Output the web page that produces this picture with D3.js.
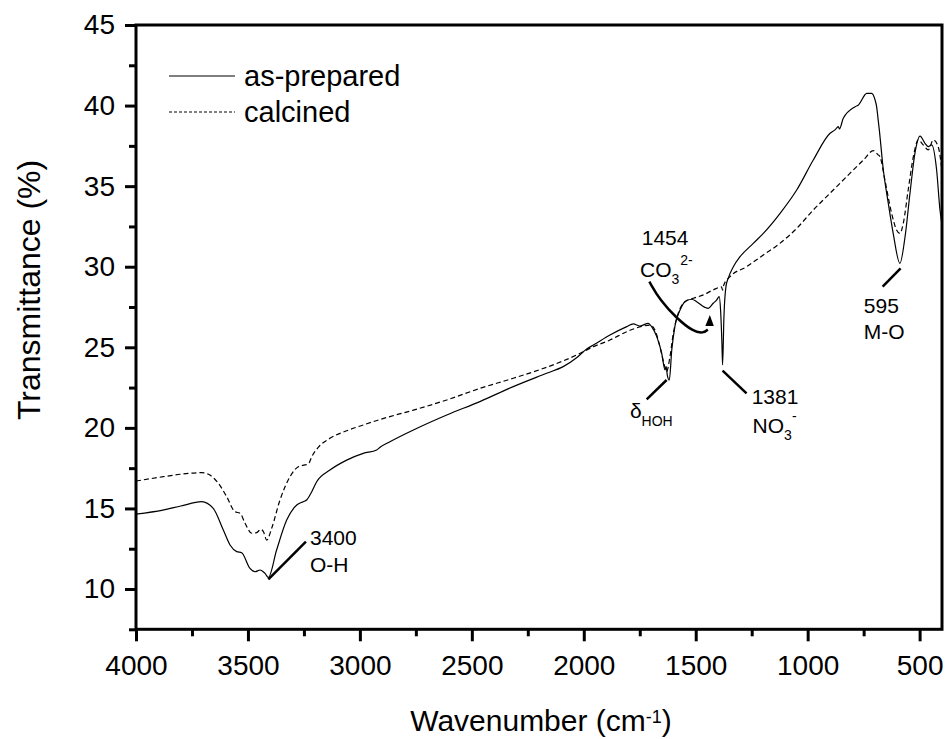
<!DOCTYPE html>
<html>
<head>
<meta charset="utf-8">
<script src="https://cdn.jsdelivr.net/npm/d3@7"></script>
<style>
  html, body { margin: 0; padding: 0; background: #fff; }
  svg { display: block; }
  text { font-family: "Liberation Sans", Arial, Helvetica, sans-serif; fill: #000; }
</style>
</head>
<body>
<svg id="chart" width="945" height="739"></svg>
<script>
// ---------------- data ----------------
const seriesNames = ["as-prepared", "calcined"];

const preparedWn = [4000,3880,3800,3707,3655,3610,3580,3550,3528,3491,3468,3446,3424,3409,3372,3327,3282,3253,3238,3215,3193,3134,3059,2985,2925,2910,2866,2761,2612,2464,2315,2166,2092,2032,1987,1957,1883,1808,1779,1749,1712,1697,1674,1652,1637,1632,1627,1618,1607,1592,1570,1548,1518,1496,1459,1444,1422,1407,1395,1389,1383,1380,1374,1365,1355,1332,1302,1243,1198,1124,1049,975,900,878,863,858,841,788,773,736,714,699,692,685,680,662,640,618,588,565,543,521,498,476,461,446,424,409,402];
const preparedT = [14.65,14.9,15.15,15.42,15.0,13.66,12.73,12.32,12.25,11.28,11.07,11.18,10.97,10.72,12.42,14.28,15.21,15.42,15.52,16.04,16.66,17.38,18.0,18.42,18.63,18.8,19.14,19.87,20.8,21.63,22.56,23.39,23.8,24.35,24.9,25.14,25.76,26.28,26.45,26.32,26.49,26.28,25.66,24.63,23.59,23.8,23.28,22.97,24.83,26.38,27.31,27.83,27.98,27.83,27.48,27.42,27.73,27.93,28.14,27.31,25.25,23.9,26.9,28.76,29.28,30.0,30.62,31.45,32.07,33.3,34.76,36.62,38.28,38.49,38.69,38.55,39.21,39.93,40.04,40.76,40.76,40.35,39.93,39.1,38.49,36.0,33.94,32.07,30.21,31.86,34.56,37.04,38.11,37.66,37.45,37.56,36.0,33.52,32.8];

const calcinedWn = [4000,3878,3803,3707,3670,3632,3595,3558,3535,3513,3483,3461,3442,3431,3416,3394,3357,3312,3275,3245,3230,3215,3186,3134,3059,2985,2910,2866,2761,2612,2464,2315,2166,2100,2032,1957,1883,1808,1734,1704,1682,1660,1642,1630,1615,1600,1578,1548,1511,1466,1422,1385,1380,1375,1347,1273,1198,1124,1049,975,900,826,751,707,685,677,655,625,603,588,573,551,528,506,484,461,439,417,402];
const calcinedT = [16.7,16.97,17.12,17.22,17.07,16.56,15.73,14.8,14.7,14.08,13.46,13.5,13.7,13.56,13.04,13.77,15.52,16.97,17.59,17.7,17.76,18.21,18.79,19.35,19.82,20.18,20.52,20.7,21.1,21.73,22.45,23.08,23.76,24.11,24.52,25.04,25.45,25.97,26.32,26.38,26.07,25.04,24.0,23.49,24.42,25.87,27.11,27.83,28.04,28.25,28.56,28.75,28.55,28.85,29.38,30.0,30.73,31.45,32.38,33.52,34.56,35.59,36.62,37.2,36.94,36.83,35.38,33.31,32.28,32.07,32.69,34.76,36.83,37.87,37.56,37.25,37.87,37.45,36.2];

const xMajorTicks = [4000,3500,3000,2500,2000,1500,1000,500];
const xMinorTicks = [3750,3250,2750,2250,1750,1250,750];
const yMajorTicks = [10,15,20,25,30,35,40,45];
const yMinorTicks = [7.5,12.5,17.5,22.5,27.5,32.5,37.5,42.5];

// annotation anchors in data units (wavenumber, transmittance)
const leaderLines = [
  [[3409,10.6],[3241,12.94]],
  [[1630,22.97],[1719,21.77]],
  [[1380,23.55],[1273,22.14]],
  [[585,29.9],[665,28.76]]
];
const arrowPath = [[1707,29.07],[1660,27.93],[1585,26.8],[1511,25.97],[1467,25.87],[1446,26.1]];
const arrowTip = [1437,27.0];

// ---------------- layout ----------------
const svg = d3.select("#chart");
const mLeft = 136, mRight = 942, mTop = 25, mBottom = 629.3;
const x = d3.scaleLinear().domain([4000, 400]).range([mLeft, mRight]);
const y = d3.scaleLinear().domain([7.5, 45]).range([mBottom, mTop]);

svg.append("defs").append("clipPath").attr("id","plotclip")
  .append("rect").attr("x",mLeft).attr("y",mTop).attr("width",mRight-mLeft).attr("height",mBottom-mTop);

const line = d3.line().x(d => x(d[0])).y(d => y(d[1])).curve(d3.curveMonotoneX);
const prepared = d3.zip(preparedWn, preparedT);
const calcined = d3.zip(calcinedWn, calcinedT);

const plot = svg.append("g").attr("clip-path","url(#plotclip)");
plot.append("path").datum(calcined).attr("d", line)
  .attr("fill","none").attr("stroke","#000").attr("stroke-width",1.2).attr("stroke-dasharray","5,3");
plot.append("path").datum(prepared).attr("d", line)
  .attr("fill","none").attr("stroke","#000").attr("stroke-width",1.2);

// ---------------- axes ----------------
function styleAxis(g, fontSize) {
  g.select(".domain").remove();
  g.selectAll(".tick line").attr("stroke","#000").attr("stroke-width",3);
  g.selectAll(".tick text").attr("font-size", fontSize).attr("fill","#000")
    .style("font-family", '"Liberation Sans", Arial, sans-serif');
}
const xAxis = svg.append("g").attr("transform",`translate(0,${mBottom})`)
  .call(d3.axisBottom(x).tickValues(xMajorTicks).tickSize(12).tickPadding(14).tickFormat(d3.format("d")));
styleAxis(xAxis, 28);
const xAxisMinor = svg.append("g").attr("transform",`translate(0,${mBottom})`)
  .call(d3.axisBottom(x).tickValues(xMinorTicks).tickSize(7).tickFormat(""));
styleAxis(xAxisMinor, 28);

const yAxis = svg.append("g").attr("transform",`translate(${mLeft},0)`)
  .call(d3.axisLeft(y).tickValues(yMajorTicks).tickSize(11).tickPadding(10).tickFormat(d3.format("d")));
styleAxis(yAxis, 28);
const yAxisMinor = svg.append("g").attr("transform",`translate(${mLeft},0)`)
  .call(d3.axisLeft(y).tickValues(yMinorTicks).tickSize(7).tickFormat(""));
styleAxis(yAxisMinor, 28);

// frame
svg.append("rect").attr("x",mLeft).attr("y",mTop).attr("width",mRight-mLeft).attr("height",mBottom-mTop)
  .attr("fill","none").attr("stroke","#000").attr("stroke-width",3);

// axis titles
const xt = svg.append("text").attr("x",(mLeft+mRight)/2 + 2).attr("y",731).attr("text-anchor","middle")
  .attr("font-size",30);
xt.append("tspan").text("Wavenumber (cm");
xt.append("tspan").attr("font-size",18).attr("dy",-8).text("-1");
xt.append("tspan").attr("dy",8).text(")");

svg.append("text").attr("transform","translate(40,420) rotate(-90)").attr("text-anchor","start")
  .attr("font-size",32).text("Transmittance (%)");

// legend
const legend = svg.append("g");
legend.append("line").attr("x1",169).attr("x2",235).attr("y1",76).attr("y2",76)
  .attr("stroke","#000").attr("stroke-width",1.2);
legend.append("text").attr("x",244).attr("y",86).attr("font-size",29).text(seriesNames[0]);
legend.append("line").attr("x1",169).attr("x2",235).attr("y1",112).attr("y2",112)
  .attr("stroke","#000").attr("stroke-width",1.2).attr("stroke-dasharray","3,2");
legend.append("text").attr("x",244).attr("y",122).attr("font-size",29).text(seriesNames[1]);

// ---------------- annotations ----------------
const ann = svg.append("g");
leaderLines.forEach(l => {
  ann.append("line").attr("x1",x(l[0][0])).attr("y1",y(l[0][1]))
    .attr("x2",x(l[1][0])).attr("y2",y(l[1][1]))
    .attr("stroke","#000").attr("stroke-width",2.5);
});
ann.append("path").datum(arrowPath)
  .attr("d", d3.line().x(d=>x(d[0])).y(d=>y(d[1])).curve(d3.curveBasis))
  .attr("fill","none").attr("stroke","#000").attr("stroke-width",2.5);
{
  const tx = x(arrowTip[0]), ty = y(arrowTip[1]);
  ann.append("path").attr("d",`M${tx},${ty} L${tx-4.5},${ty+11} L${tx+4},${ty+11} Z`).attr("fill","#000");
}

function label(wn, t, str, size) {
  return ann.append("text").attr("x", x(wn)).attr("y", y(t)).attr("font-size", size || 21).text(str);
}
label(3223, 12.73, "3400");
label(3223, 11.07, "O-H");
label(1741, 31.35, "1454");
const co = ann.append("text").attr("x", x(1749)).attr("y", y(29.36)).attr("font-size",21);
co.append("tspan").text("CO");
co.append("tspan").attr("font-size",14).attr("dy",7).text("3");
co.append("tspan").attr("font-size",14).attr("dy",-19).attr("dx",1).text("2-");
const dl = ann.append("text").attr("x", x(1794)).attr("y", y(20.59)).attr("font-size",21);
dl.append("tspan").text("δ");
dl.append("tspan").attr("font-size",14).attr("dy",8).text("HOH");
label(1250, 21.48, "1381");
const no = ann.append("text").attr("x", x(1246)).attr("y", y(19.66)).attr("font-size",21);
no.append("tspan").text("NO");
no.append("tspan").attr("font-size",14).attr("dy",7).text("3");
no.append("tspan").attr("font-size",14).attr("dy",-19).attr("dx",0).text("-");
label(749, 27.13, "595");
label(749, 25.5, "M-O");
</script>
</body>
</html>
